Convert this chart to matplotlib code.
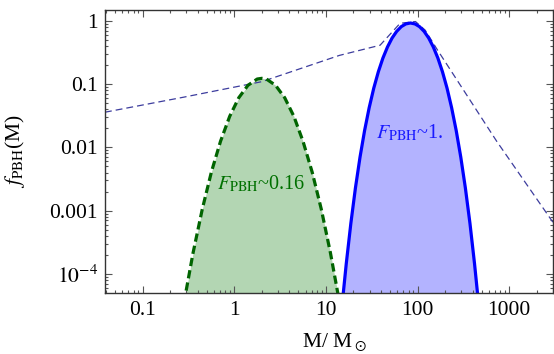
'''PBH mass functions against the combined constraint'''

import matplotlib
matplotlib.use('Agg')
import matplotlib.pyplot as plt
from matplotlib.ticker import FixedLocator, FixedFormatter, LogLocator, NullFormatter

plt.rcParams['font.family'] = ['Liberation Serif', 'DejaVu Serif']
plt.rcParams['mathtext.fontset'] = 'stix'

# light mass function (green)
green_m = [0.282, 0.355, 0.447, 0.562, 0.708, 0.891, 1.12, 1.41, 1.78, 2.0,
           2.24, 2.82, 3.55, 4.47, 5.62, 7.08, 8.91, 11.2, 14.1]
green_f = [3.5e-5, 2.16e-4, 1.05e-3, 4.06e-3, 0.0125, 0.0309, 0.0608, 0.0955, 0.120, 0.123,
           0.120, 0.0955, 0.0608, 0.0309, 0.0125, 4.06e-3, 1.05e-3, 2.16e-4, 3.5e-5]

# heavy mass function (blue)
blue_m = [13.87, 15.2, 16.67, 18.71, 20.99, 23.55, 26.42, 29.65, 33.27, 37.33, 41.88,
          46.99, 52.72, 59.16, 66.37, 74.47, 83.56, 93.76, 105.2, 118.0, 132.4, 148.6,
          166.7, 187.1, 209.9, 235.5, 264.2, 296.5, 332.7, 373.3, 418.8, 459.2, 503.5]
blue_f = [8.9e-6, 3.88e-5, 1.45e-4, 6.3e-4, 2.28e-3, 6.98e-3, 0.0184, 0.0422, 0.0859,
          0.156, 0.257, 0.385, 0.532, 0.678, 0.805, 0.890, 0.920, 0.890, 0.805, 0.678,
          0.532, 0.385, 0.257, 0.156, 0.0859, 0.0422, 0.0184, 6.98e-3, 2.28e-3, 6.3e-4,
          1.45e-4, 3.88e-5, 8.9e-6]

# upper bound on f_PBH
bound_m = [0.0388, 0.28, 2.0, 14.0, 39.0, 64.5, 95.0, 121, 162, 733, 3040]
bound_f = [0.0359, 0.062, 0.109, 0.283, 0.41, 0.91, 0.97, 0.71, 0.36, 0.0124, 6.4e-4]

xticks = [0.1, 1, 10, 100, 1000]
xlabels = ['0.1', '1', '10', '100', '1000']
yticks = [1e-4, 1e-3, 1e-2, 0.1, 1]
ylabels = [r'$10^{-4}$', '0.001', '0.01', '0.1', '1']

fig = plt.figure(figsize=(5.54, 3.54), dpi=100)
ax = fig.add_axes([0.1895, 0.1732, 0.8085, 0.7998])

ymin = 5.07e-5
ax.fill_between(green_m, green_f, 1e-6, color=(0.70, 0.84, 0.70), lw=0)
ax.fill_between(blue_m, blue_f, 1e-6, color=(0.70, 0.70, 1.0), lw=0)
ax.plot(bound_m, bound_f, color='#3d3d9e', lw=0.9, dashes=(5.5, 3.2))
ax.plot(green_m, green_f, color='#006400', lw=2.3, dashes=(2.6, 1.3))
ax.plot(blue_m, blue_f, color='#0000ff', lw=2.3)

ax.set_xscale('log')
ax.set_yscale('log')
ax.set_xlim(0.0388, 3000)
ax.set_ylim(ymin, 1.5)

ax.xaxis.set_major_locator(FixedLocator(xticks))
ax.xaxis.set_major_formatter(FixedFormatter(xlabels))
ax.yaxis.set_major_locator(FixedLocator(yticks))
ax.yaxis.set_major_formatter(FixedFormatter(ylabels))
for axis in (ax.xaxis, ax.yaxis):
    axis.set_minor_locator(LogLocator(base=10, subs=range(2, 10), numticks=20))
    axis.set_minor_formatter(NullFormatter())

ax.tick_params(which='both', direction='in', top=True, right=True, colors='#555555',
               labelcolor='black', labelsize=15.5, width=0.8)
ax.tick_params(which='major', length=5)
ax.tick_params(which='minor', length=2.5)
ax.tick_params(axis='x', pad=6)
ax.tick_params(axis='y', pad=5)
for s in ax.spines.values():
    s.set_color('#333333')
    s.set_linewidth(1.0)

ax.set_xlabel(r'M/ M$_\odot$', fontsize=15.5)
ax.set_ylabel(r'$f_{\mathrm{PBH}}$(M)', fontsize=15.5)
ax.xaxis.set_label_coords(0.513, -0.135)
ax.yaxis.set_label_coords(-0.174, 0.5)

ax.text(1.96, 2.6e-3, r'$F_{\mathrm{PBH}}$~0.16', color='#007000', fontsize=14.5,
        ha='center', va='center')
ax.text(83, 0.017, r'$F_{\mathrm{PBH}}$~1.', color='#1a1aff', fontsize=14.5,
        ha='center', va='center')

fig.savefig('out.png', dpi=100)
